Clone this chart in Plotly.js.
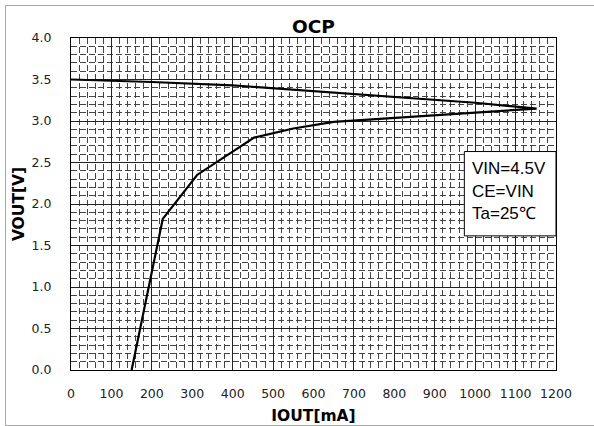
<!DOCTYPE html>
<html>
<head>
<meta charset="utf-8">
<script src="https://cdn.plot.ly/plotly-3.0.1.min.js"></script>
<style>
  html, body { margin: 0; padding: 0; overflow: hidden; background: #fff; }
  #wrap { position: relative; width: 594px; height: 426px; }
  #chart { position: absolute; left: 0; top: 0; width: 594px; height: 426px; }
  #frame { position: absolute; left: 5px; top: 5px; width: 620px; height: 419px;
           border: 1px solid #a8a8a8; pointer-events: none; }
</style>
</head>
<body>
<div id="wrap">
  <div id="chart"></div>
  <div id="frame"></div>
</div>
<script>
// Lower branch (rising from short-circuit toward the fold-back tip)
const iLower = [150, 227, 312, 453, 550, 650, 715, 850, 1000, 1152];
const vLower = [0.0, 1.82, 2.35, 2.80, 2.91, 2.99, 3.01, 3.05, 3.10, 3.15];
// Upper branch (normal regulation, dropping with load)
const iUpper = [0, 200, 400, 600, 665, 800, 1000, 1152];
const vUpper = [3.50, 3.47, 3.43, 3.36, 3.34, 3.29, 3.22, 3.15];

const xTicks = [0, 100, 200, 300, 400, 500, 600, 700, 800, 900, 1000, 1100, 1200];
const yTicks = [0.0, 0.5, 1.0, 1.5, 2.0, 2.5, 3.0, 3.5, 4.0];
const noteLines = ["VIN=4.5V", "CE=VIN", "Ta=25\u2103"];

const iAll = iUpper.concat(iLower.slice().reverse());
const vAll = vUpper.concat(vLower.slice().reverse());

const tickFont = {family: "DejaVu Sans", size: 12.5, color: "#222"};
const majorGrid = "#222";
const minorGrid = {showgrid: true, gridcolor: "#444", gridwidth: 1, griddash: "6px,3px", ticks: ""};

const trace = {
  x: iAll, y: vAll, type: "scatter", mode: "lines",
  line: {color: "#000", width: 2.2},
  hoverinfo: "skip", showlegend: false
};

const layout = {
  width: 594, height: 426,
  margin: {l: 71, r: 38, t: 38, b: 56, pad: 0},
  paper_bgcolor: "#fff", plot_bgcolor: "#fff",
  showlegend: false,
  title: {
    text: "OCP", x: 0.5, xref: "paper", xanchor: "center",
    y: 0.938, yref: "container", yanchor: "middle",
    font: {family: "DejaVu Sans", size: 18.5, color: "#000", weight: "bold"}
  },
  xaxis: {
    range: [0, 1200], tickvals: xTicks, ticktext: xTicks.map(String),
    showgrid: true, gridcolor: majorGrid, gridwidth: 1,
    showline: true, linecolor: "#000", linewidth: 1, mirror: true,
    zeroline: false, ticks: "", ticklabelstandoff: 12,
    tickfont: tickFont,
    minor: Object.assign({dtick: 20, tick0: 0}, minorGrid),
    title: {text: "IOUT[mA]", standoff: 10,
            font: {family: "DejaVu Sans", size: 15.5, color: "#000", weight: "bold"}},
    fixedrange: true
  },
  yaxis: {
    range: [0, 4], tickvals: yTicks, ticktext: yTicks.map(v => v.toFixed(1)),
    showgrid: true, gridcolor: majorGrid, gridwidth: 1,
    showline: true, linecolor: "#000", linewidth: 1, mirror: true,
    zeroline: false, ticks: "", ticklabelstandoff: 16,
    tickfont: tickFont,
    minor: Object.assign({dtick: 0.1, tick0: 0}, minorGrid),
    title: {text: "VOUT[V]", standoff: 3,
            font: {family: "DejaVu Sans", size: 15.5, color: "#000", weight: "bold"}},
    fixedrange: true
  },
  shapes: [{
    type: "rect", xref: "paper", yref: "paper",
    x0: 0.811, x1: 1.0, y0: 0.404, y1: 0.658,
    fillcolor: "#fff", line: {color: "#000", width: 1}, layer: "above"
  }],
  annotations: noteLines.map((t, k) => ({
    text: t, xref: "paper", yref: "paper",
    x: 0.822, y: 0.608 - k * 0.069, xanchor: "left", yanchor: "middle",
    showarrow: false,
    font: {family: "Liberation Sans, Arial", size: 17, color: "#000"}
  }))
};

Plotly.newPlot("chart", [trace], layout, {staticPlot: true, displayModeBar: false});
</script>
</body>
</html>
